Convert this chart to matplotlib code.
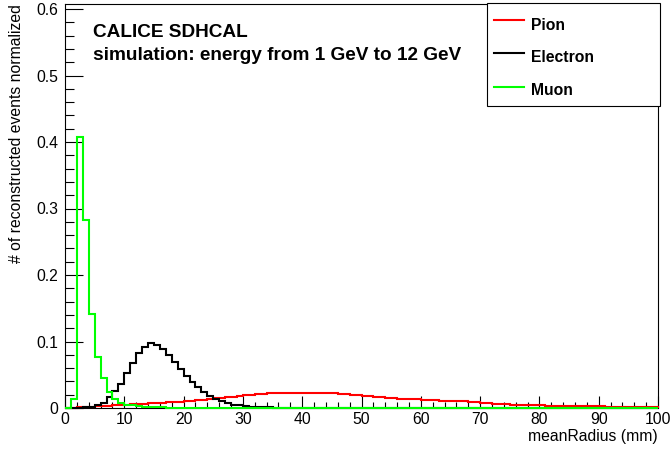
import numpy as np
import matplotlib
matplotlib.use("Agg")
import matplotlib.pyplot as plt
from matplotlib.ticker import MultipleLocator, FixedLocator, FixedFormatter
from matplotlib.patches import Rectangle
from matplotlib.lines import Line2D

plt.rcParams['font.family'] = ['Liberation Sans', 'DejaVu Sans']

# ---- data (1 mm bins from 0 to 100 mm) ----
bin_edges = np.arange(0, 101, 1)

pion = [
    0.0, 0.0005, 0.001, 0.0015, 0.002, 0.0025, 0.003, 0.0035, 0.004, 0.0045,
    0.005, 0.0055, 0.006, 0.0065, 0.007, 0.0075, 0.008, 0.0085, 0.009, 0.0095,
    0.010, 0.0105, 0.012, 0.0125, 0.0135, 0.0145, 0.015, 0.016, 0.017, 0.018,
    0.019, 0.020, 0.021, 0.021, 0.022, 0.023, 0.023, 0.023, 0.023, 0.023,
    0.023, 0.023, 0.023, 0.023, 0.023, 0.023, 0.021, 0.0205, 0.0195, 0.019,
    0.0185, 0.018, 0.0165, 0.016, 0.0155, 0.0145, 0.014, 0.0138, 0.0135, 0.013,
    0.0125, 0.012, 0.0115, 0.011, 0.0105, 0.0102, 0.010, 0.0098, 0.0095, 0.009,
    0.0078, 0.0072, 0.0065, 0.0058, 0.0055, 0.0052, 0.0048, 0.0042, 0.004, 0.0038,
    0.0038, 0.0036, 0.0035, 0.0034, 0.0033, 0.003, 0.0026, 0.0025, 0.0024, 0.0024,
    0.0023, 0.0022, 0.0022, 0.0021, 0.002, 0.002, 0.0019, 0.0019, 0.001, 0.001,
]

electron = [
    0.0, 0.0, 0.0005, 0.001, 0.002, 0.004, 0.008, 0.016, 0.025, 0.036,
    0.052, 0.068, 0.082, 0.092, 0.097, 0.094, 0.088, 0.079, 0.069, 0.059,
    0.048, 0.039, 0.031, 0.024, 0.018, 0.013, 0.010, 0.007, 0.005, 0.004,
    0.003, 0.002, 0.0015, 0.001, 0.0008, 0.0005, 0.0, 0.0, 0.0, 0.0,
    0.0, 0.0, 0.0, 0.0, 0.0, 0.0, 0.0, 0.0, 0.0, 0.0,
    0.0, 0.0, 0.0, 0.0, 0.0, 0.0, 0.0, 0.0, 0.0, 0.0,
    0.0, 0.0, 0.0, 0.0, 0.0, 0.0, 0.0, 0.0, 0.0, 0.0,
    0.0, 0.0, 0.0, 0.0, 0.0, 0.0, 0.0, 0.0, 0.0, 0.0,
    0.0, 0.0, 0.0, 0.0, 0.0, 0.0, 0.0, 0.0, 0.0, 0.0,
    0.0, 0.0, 0.0, 0.0, 0.0, 0.0, 0.0, 0.0, 0.0, 0.0,
]

muon = [
    0.0, 0.0136, 0.408, 0.282, 0.141, 0.076, 0.045, 0.024, 0.013, 0.008,
    0.005, 0.004, 0.003, 0.002, 0.0015, 0.001, 0.0008, 0.0005, 0.0003, 0.0002,
    0.0, 0.0, 0.0, 0.0, 0.0, 0.0, 0.0, 0.0, 0.0, 0.0,
    0.0, 0.0, 0.0, 0.0, 0.0, 0.0, 0.0, 0.0, 0.0, 0.0,
    0.0, 0.0, 0.0, 0.0, 0.0, 0.0, 0.0, 0.0, 0.0, 0.0,
    0.0, 0.0, 0.0, 0.0, 0.0, 0.0, 0.0, 0.0, 0.0, 0.0,
    0.0, 0.0, 0.0, 0.0, 0.0, 0.0, 0.0, 0.0, 0.0, 0.0,
    0.0, 0.0, 0.0, 0.0, 0.0, 0.0, 0.0, 0.0, 0.0, 0.0,
    0.0, 0.0, 0.0, 0.0, 0.0, 0.0, 0.0, 0.0, 0.0, 0.0,
    0.0, 0.0, 0.0, 0.0, 0.0, 0.0, 0.0, 0.0, 0.0, 0.0,
]

series_names = ["Pion", "Electron", "Muon"]
series_colors = ["#ff0000", "#000000", "#00ff00"]

x_ticks = [0, 10, 20, 30, 40, 50, 60, 70, 80, 90, 100]
x_ticklabels = ["0", "10", "20", "30", "40", "50", "60", "70", "80", "90", "100"]
y_ticks = [0.0, 0.1, 0.2, 0.3, 0.4, 0.5, 0.6]
y_ticklabels = ["0", "0.1", "0.2", "0.3", "0.4", "0.5", "0.6"]

title_lines = ["CALICE SDHCAL", "simulation: energy from 1 GeV to 12 GeV"]
x_title = "meanRadius (mm)"
y_title = "# of reconstructed events normalized"

# ---- figure ----
W, H = 670, 450
fig = plt.figure(figsize=(W / 100, H / 100), dpi=100)
fig.patch.set_facecolor("white")

def fx(px):
    return px / W

def fy(py):
    return 1 - py / H

ax_l, ax_r, ax_t, ax_b = 65, 658, 4, 408
ax = fig.add_axes([fx(ax_l), fy(ax_b), (ax_r - ax_l) / W, (ax_b - ax_t) / H])
ax.set_xlim(0, 100)
ax.set_ylim(0, (ax_b - ax_t) / 665.0)

for vals, col in zip([pion, electron, muon], series_colors):
    ax.stairs(vals, bin_edges, baseline=0, fill=False, color=col,
              linewidth=1.5, zorder=3, clip_on=False)

FS = 11.3
ax.xaxis.set_major_locator(FixedLocator(x_ticks))
ax.xaxis.set_major_formatter(FixedFormatter(x_ticklabels))
ax.xaxis.set_minor_locator(MultipleLocator(2))
ax.yaxis.set_major_locator(FixedLocator(y_ticks))
ax.yaxis.set_major_formatter(FixedFormatter(y_ticklabels))
ax.yaxis.set_minor_locator(MultipleLocator(0.02))

ax.tick_params(axis='x', which='major', direction='in', length=8.7, width=0.8,
               labelsize=FS, pad=3, top=False)
ax.tick_params(axis='x', which='minor', direction='in', length=4.4, width=0.8, top=False)
ax.tick_params(axis='y', which='major', direction='in', length=12.8, width=0.8,
               labelsize=FS, pad=5, right=False)
ax.tick_params(axis='y', which='minor', direction='in', length=6.4, width=0.8, right=False)

for s in ax.spines.values():
    s.set_linewidth(0.8)
    s.set_color("black")

# axis titles
fig.text(fx(ax_r), fy(441), x_title, ha='right', va='baseline', fontsize=FS)
fig.text(fx(17), fy(4), y_title, rotation=90, ha='center', va='top', fontsize=FS)

# inner title
TFS = 13.7
fig.text(fx(93), fy(37), title_lines[0], ha='left', va='baseline',
         fontsize=TFS, fontweight='bold')
fig.text(fx(93), fy(60), title_lines[1], ha='left', va='baseline',
         fontsize=TFS, fontweight='bold')

# legend box
lg_l, lg_r, lg_t, lg_b = 487, 660, 3, 106
fig.patches.append(Rectangle((fx(lg_l), fy(lg_b)), (lg_r - lg_l) / W, (lg_b - lg_t) / H,
                             transform=fig.transFigure, facecolor='white',
                             edgecolor='black', linewidth=0.8, zorder=10))
line_y = [20, 53, 87]
text_base = [29.5, 62, 95]
for name, col, ly, tb in zip(series_names, series_colors, line_y, text_base):
    fig.lines.append(Line2D([fx(494), fx(524)], [fy(ly), fy(ly)], color=col,
                            linewidth=1.5, transform=fig.transFigure, zorder=11))
    fig.text(fx(531), fy(tb), name, ha='left', va='baseline', fontsize=FS,
             fontweight='bold', zorder=12)

fig.savefig("out.png", dpi=100, facecolor="white")
